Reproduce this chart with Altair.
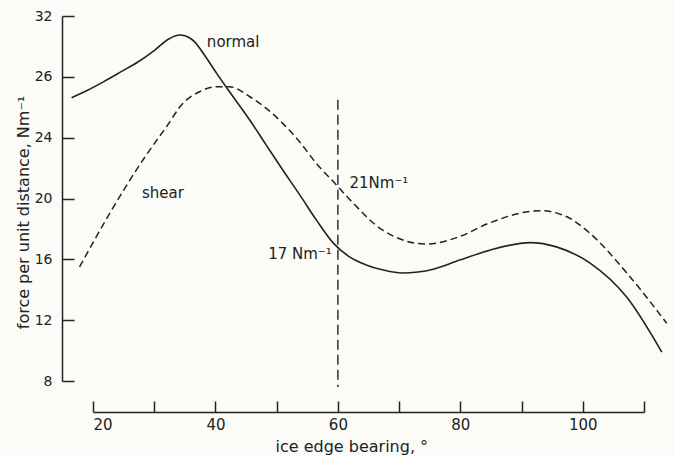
import altair as alt
import pandas as pd

# ---- data ----
normal_x = [16.5, 19.2, 21.9, 24.6, 27.4, 30.1, 32.3, 34.2, 35.6, 36.6, 38.0, 40.2, 42.3,
            45.6, 48.3, 51.0, 53.8, 56.5, 59.3, 61.9, 64.5, 67.4, 70.5, 75.6, 79.9, 84.8,
            91.4, 95.7, 101.2, 107.2, 112.9]
normal_y = [26.63, 27.13, 27.72, 28.34, 28.99, 29.76, 30.47, 30.75, 30.6, 30.3, 29.55, 28.23,
            27.02, 25.16, 23.51, 21.87, 20.22, 18.58, 17.05, 16.16, 15.65, 15.3, 15.1, 15.35,
            15.95, 16.6, 17.1, 16.82, 15.75, 13.5, 9.9]

shear_x = [17.8, 22.7, 28.5, 32.0, 34.7, 37.4, 40.2, 42.3, 45.6, 48.3, 51.0, 53.8, 56.5,
           59.5, 61.9, 67.4, 74.5, 79.9, 84.8, 93.0, 97.4, 101.2, 107.2, 113.7]
shear_y = [15.5, 19.0, 22.74, 24.72, 26.26, 27.02, 27.35, 27.35, 26.69, 25.93, 24.94, 23.7,
           22.3, 21.0, 19.95, 17.9, 17.0, 17.5, 18.4, 19.2, 18.8, 17.7, 15.1, 11.8]

marker_x = [60]
marker_top = [26.5]
marker_bottom = [7.6]

y_ticks = [8, 12, 16, 20, 24, 28, 32]
x_ticks = [20, 30, 40, 50, 60, 70, 80, 90, 100, 110]
x_labels = [20, 40, 60, 80, 100]

left_text = ["normal", "shear", "21Nm⁻¹"]
left_x = [38.6, 28.0, 61.9]
left_y = [30.3, 20.35, 21.0]
right_text = ["17 Nm⁻¹"]
right_x = [59.0]
right_y = [16.35]

# ---- chart ----
ink = "#222222"
font = "DejaVu Sans"

df_n = pd.DataFrame({"x": normal_x, "y": normal_y})
df_s = pd.DataFrame({"x": shear_x, "y": shear_y})
df_r = pd.DataFrame({"x": marker_x, "y": marker_top, "y2": marker_bottom})
df_tl = pd.DataFrame({"x": left_x, "y": left_y, "t": left_text})
df_tr = pd.DataFrame({"x": right_x, "y": right_y, "t": right_text})

xs = alt.Scale(domain=[20, 110], range=[31, 582], nice=False, zero=False)
ys = alt.Scale(domain=[8, 32], nice=False, zero=False)

normal = alt.Chart(df_n).mark_line(interpolate="monotone", color=ink, strokeWidth=1.6).encode(
    x=alt.X("x:Q", scale=xs, axis=alt.Axis(
        values=x_labels, orient="bottom", offset=31, ticks=False, tickSize=0,
        domain=False, grid=False, labelPadding=5, labelFontSize=15,
        title="ice edge bearing,   °", titleX=213, titleY=34, titleAlign="left",
        titleBaseline="middle", titleFontSize=16, titleFontWeight="normal")),
    y=alt.Y("y:Q", scale=ys, axis=alt.Axis(
        values=y_ticks, orient="left", ticks=False, tickSize=0, domain=False,
        grid=False, labelPadding=10, labelFontSize=14,
        labelExpr="datum.value == 28 ? '26' : datum.label",
        title="force per unit distance, Nm⁻¹", titleX=-39, titleY=196,
        titleAngle=270, titleAlign="center", titleBaseline="middle",
        titleFontSize=16, titleFontWeight="normal")),
)

shear = alt.Chart(df_s).mark_line(interpolate="monotone", color=ink, strokeWidth=1.5,
                                  strokeDash=[7, 4]).encode(
    x=alt.X("x:Q", scale=xs, axis=alt.Axis(
        values=x_ticks, orient="top", offset=-396, labels=False, tickSize=11,
        domain=True, grid=False, title=None)),
    y=alt.Y("y:Q", scale=ys, axis=alt.Axis(
        values=y_ticks, orient="right", offset=-606, labels=False, tickSize=12,
        domain=True, grid=False, title=None)),
)

rule = alt.Chart(df_r).mark_rule(color=ink, strokeWidth=1.4, strokeDash=[10, 5]).encode(
    x=alt.X("x:Q", scale=xs, axis=None),
    y=alt.Y("y:Q", scale=ys, axis=None),
    y2="y2:Q",
)

text_l = alt.Chart(df_tl).mark_text(align="left", baseline="middle", font=font,
                                    fontSize=15, color=ink).encode(
    x=alt.X("x:Q", scale=xs, axis=None),
    y=alt.Y("y:Q", scale=ys, axis=None),
    text="t:N",
)

text_r = alt.Chart(df_tr).mark_text(align="right", baseline="middle", font=font,
                                    fontSize=15, color=ink).encode(
    x=alt.X("x:Q", scale=xs, axis=None),
    y=alt.Y("y:Q", scale=ys, axis=None),
    text="t:N",
)

chart = alt.layer(normal, shear, rule, text_l, text_r).resolve_axis(
    x="independent", y="independent"
).properties(
    width=606, height=365,
    autosize=alt.AutoSizeParams(type="none"),
    padding={"left": 62, "top": 16, "right": 6, "bottom": 75},
    background="#fbfbf7",
).configure_view(stroke=None).configure_axis(
    labelFont=font, titleFont=font, labelColor=ink, titleColor=ink,
    domainColor=ink, tickColor=ink, domainWidth=1.5, tickWidth=1.5, grid=False,
)

chart.save("out.html", embed_options={"renderer": "svg", "actions": False})
